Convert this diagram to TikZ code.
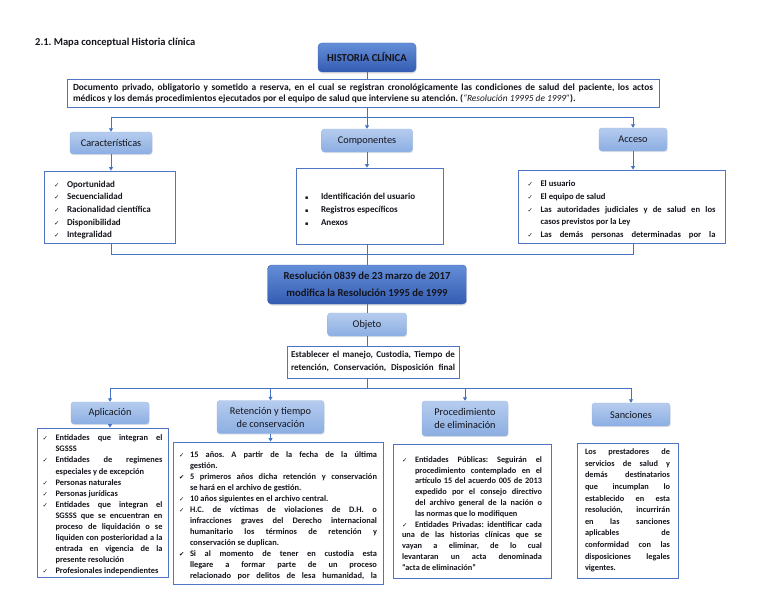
\documentclass[tikz,border=0pt]{standalone}
\usepackage{fontspec}
\setmainfont{Carlito}
\newfontfamily\symfont{DejaVu Sans}
\usepackage{tikz}
\usetikzlibrary{arrows.meta,shadows}
\frenchspacing

\definecolor{linkblue}{RGB}{68,114,196}
\definecolor{boxline}{RGB}{79,118,196}
\definecolor{lighttop}{RGB}{182,204,238}
\definecolor{lightbot}{RGB}{139,174,226}
\definecolor{lightline}{RGB}{150,182,228}
\definecolor{darktop}{RGB}{100,142,216}
\definecolor{darkbot}{RGB}{52,92,178}
\definecolor{darkline}{RGB}{62,100,180}
\definecolor{ink}{RGB}{20,20,28}

\newcommand{\chk}[1][13pt]{\par\noindent\hangindent=#1\hangafter=1\makebox[#1][l]{\symfont\fontsize{6.3}{6.3}\selectfont ✓}\ignorespaces}
\newcommand{\chkb}[1][13pt]{\par\noindent\hangindent=#1\hangafter=1\makebox[#1][l]{\symfont\fontsize{6.3}{6.3}\selectfont ✔}\ignorespaces}
\newcommand{\sqr}{\par\noindent\makebox[16pt][l]{\symfont\fontsize{5}{5}\selectfont ▪}\ignorespaces}

\tikzset{
	conn/.style={draw=linkblue, line width=1pt},
	arr/.style={conn, -{Triangle[length=3.5pt,width=4pt]}},
	headbox/.style={rounded corners=3pt, top color=lighttop, bottom color=lightbot, draw=lightline, text=ink, align=center, inner sep=1pt, font=\fontsize{10.3}{13}\selectfont, drop shadow={opacity=0.2, shadow xshift=0.6pt, shadow yshift=-1.2pt}},
	mainbox/.style={rounded corners=4pt, top color=darktop, bottom color=darkbot, draw=darkline, text=ink, align=center, inner sep=1pt, font=\bfseries\fontsize{10.7}{17}\selectfont, drop shadow={opacity=0.25, shadow xshift=0.6pt, shadow yshift=-1.5pt}},
	listbox/.style={draw=boxline, line width=0.8pt, fill=white, text=ink, align=justify, inner ysep=0pt}
}

\begin{document}
\begin{tikzpicture}[x=1pt,y=-1pt]
	\useasboundingbox (0,0) rectangle (768,594);
	\node[anchor=west, inner sep=0pt, text=ink, font=\bfseries\fontsize{10.5}{12}\selectfont] (title) at (35,43) {2.1. Mapa conceptual Historia clínica};

	\node[mainbox, minimum width=98pt, minimum height=29pt] (hc) at (367,57.5) {HISTORIA CLÍNICA};
	\node[listbox, text width=580pt, inner xsep=6pt, minimum height=28pt, font=\bfseries\fontsize{9.4}{11}\selectfont] (desc) at (363,93) {Documento privado, obligatorio y sometido a reserva, en el cual se registran cronológicamente las condiciones de salud del paciente, los actos\linebreak médicos y los demás procedimientos ejecutados por el equipo de salud que interviene su atención. (\textit{\mdseries “Resolución 19995 de 1999”}).};

	\node[headbox, minimum width=82pt, minimum height=22pt] (car) at (111,143) {Características};
	\node[headbox, minimum width=91pt, minimum height=23pt] (comp) at (367,140.5) {Componentes};
	\node[headbox, minimum width=68pt, minimum height=23pt] (acc) at (633,139.5) {Acceso};

	\node[listbox, text width=111pt, inner xsep=10pt, minimum height=72pt, font=\bfseries\fontsize{9}{12.7}\selectfont] (carl) at (109.5,207) {\chk Oportunidad \chk Secuencialidad \chk Racionalidad científica \chk Disponibilidad \chk Integralidad};
	\node[listbox, text width=129pt, inner xsep=9pt, minimum height=76pt, font=\bfseries\fontsize{9}{13}\selectfont] (compl) at (369.5,206) {\sqr Identificación del usuario \sqr Registros específicos \sqr Anexos};
	\node[listbox, text width=188pt, inner xsep=9.5pt, minimum height=73pt, font=\bfseries\fontsize{8.6}{12.7}\selectfont] (accl) at (621.5,206.5) {\chk El usuario \chk El equipo de salud \chk Las autoridades judiciales y de salud en los\linebreak casos previstos por la Ley \chk Las demás personas determinadas por la{\parfillskip=0pt\par}};

	\node[mainbox, minimum width=199pt, minimum height=39pt] (res) at (367,284.5) {Resolución 0839 de 23 marzo de 2017\\modifica la Resolución 1995 de 1999};
	\node[headbox, minimum width=79pt, minimum height=23pt] (obj) at (367,324.5) {Objeto};
	\node[listbox, text width=164pt, inner xsep=4pt, minimum height=32pt, font=\bfseries\fontsize{9}{13}\selectfont] (goal) at (373,362) {Establecer el manejo, Custodia, Tiempo de\linebreak retención, Conservación, Disposición final{\parfillskip=0pt\par}};

	\node[headbox, minimum width=78pt, minimum height=22pt] (apl) at (110,413) {Aplicación};
	\node[headbox, minimum width=107pt, minimum height=33pt] (ret) at (270.5,417) {Retención y tiempo\\de conservación};
	\node[headbox, minimum width=86pt, minimum height=35pt] (pro) at (465,418.5) {Procedimiento\\de eliminación};
	\node[headbox, minimum width=78pt, minimum height=23pt] (san) at (631,414.5) {Sanciones};

	\node[listbox, text width=120pt, inner xsep=5.5pt, minimum height=149pt, font=\bfseries\fontsize{8.4}{11.1}\selectfont] (apll) at (102.5,502.5) {\chk Entidades que integran el\linebreak SGSSS \chk Entidades de regimenes\linebreak especiales y de excepción \chk Personas naturales \chk Personas jurídicas \chk Entidades que integran el\linebreak SGSSS que se encuentran en\linebreak proceso de liquidación o se\linebreak liquiden con posterioridad a la\linebreak entrada en vigencia de la\linebreak presente resolución \chk Profesionales independientes};
	\node[listbox, text width=198pt, inner xsep=6pt, minimum height=142pt, font=\bfseries\fontsize{8.4}{11}\selectfont] (retl) at (278,513) {\chk[11pt] 15 años. A partir de la fecha de la última\linebreak gestión. \chkb[11pt] 5 primeros años dicha retención y conservación\linebreak se hará en el archivo de gestión. \chk[11pt] 10 años siguientes en el archivo central. \chk[11pt] H.C. de víctimas de violaciones de D.H. o\linebreak infracciones graves del Derecho internacional\linebreak humanitario los términos de retención y\linebreak conservación se duplican. \chkb[11pt] Si al momento de tener en custodia esta\linebreak llegare a formar parte de un proceso\linebreak relacionado por delitos de lesa humanidad, la{\parfillskip=0pt\par}};
	\node[listbox, text width=140pt, inner xsep=9pt, minimum height=134pt, font=\bfseries\fontsize{8.3}{10.8}\selectfont] (prol) at (472,511) {\chk Entidades Públicas: Seguirán el\linebreak procedimiento contemplado en el\linebreak artículo 15 del acuerdo 005 de 2013\linebreak expedido por el consejo directivo\linebreak del archivo general de la nación o\linebreak las normas que lo modifiquen \chk Entidades Privadas: identificar cada\linebreak una de las historias clínicas que se\linebreak vayan a eliminar, de lo cual\linebreak levantaran un acta denominada\linebreak “acta de eliminación”};
	\node[listbox, text width=85pt, inner xsep=8pt, minimum height=135pt, font=\bfseries\fontsize{8.3}{11.6}\selectfont] (sanl) at (627.5,510.5) {Los prestadores de\linebreak servicios de salud y\linebreak demás destinatarios\linebreak que incumplan lo\linebreak establecido en esta\linebreak resolución, incurrirán\linebreak en las sanciones\linebreak aplicables de\linebreak conformidad con las\linebreak disposiciones legales\linebreak vigentes.};

	\draw[conn] (hc.south) -- (hc.south |- desc.north);
	\coordinate (topj) at (367,117);
	\draw[conn] (hc.south |- desc.south) -- (topj);
	\draw[arr] (topj) -| (car.north);
	\draw[arr] (topj) -| (acc.north);
	\draw[arr] (topj) -- (comp.north);
	\draw[arr] (car.south) -- (car.south |- carl.north);
	\draw[arr] (comp.south) -- (comp.south |- compl.north);
	\draw[arr] (acc.south) -- (acc.south |- accl.north);

	\coordinate (midj) at (367,254);
	\draw[conn] (car.south |- carl.south) |- (midj);
	\draw[conn] (acc.south |- accl.south) |- (midj);
	\draw[conn] (comp.south |- compl.south) -- (res.north);
	\draw[conn] (res.south) -- (obj.north);
	\draw[conn] (obj.south) -- (obj.south |- goal.north);

	\coordinate (lowj) at (367,388);
	\draw[conn] (obj.south |- goal.south) -- (lowj);
	\draw[arr] (lowj) -| (apl.north);
	\draw[arr] (lowj) -| (san.north);
	\draw[arr] (ret.north |- lowj) -- (ret.north);
	\draw[arr] (pro.north |- lowj) -- (pro.north);
	\draw[arr] (apl.south) -- (apl.south |- apll.north);
	\draw[arr] (ret.south) -- (ret.south |- retl.north);
\end{tikzpicture}
\end{document}
